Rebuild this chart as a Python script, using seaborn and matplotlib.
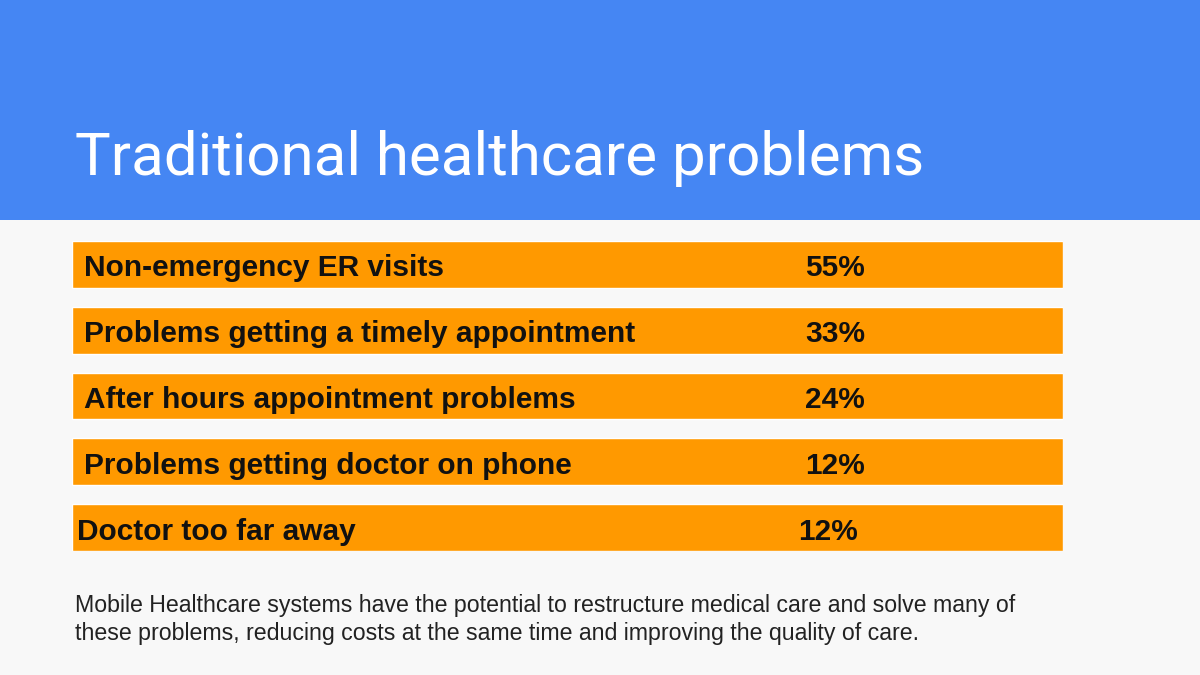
import matplotlib
matplotlib.use("Agg")
import matplotlib.pyplot as plt
import seaborn as sns
import pandas as pd

categories = ["Non-emergency ER visits", "Problems getting a timely appointment",
              "After hours appointment problems", "Problems getting doctor on phone",
              "Doctor too far away"]
percent_labels = ["55%", "33%", "24%", "12%", "12%"]
bar_extent = [100, 100, 100, 100, 100]

sns.set_style("white")
plt.rcParams['font.family'] = ['Liberation Sans', 'DejaVu Sans']

fig = plt.figure(figsize=(12, 6.75), dpi=100)
fig.patch.set_facecolor("#f8f8f8")
fig.patches.append(plt.Rectangle((0, 1 - 220/675), 1, 220/675, transform=fig.transFigure,
                                 facecolor="#4586f3", edgecolor="none", zorder=0))
fig.text(75/1200, 1 - 175/675, "Traditional healthcare problems", color="white",
         fontsize=43.2, family="Roboto", va="baseline", ha="left")

ax = fig.add_axes([72/1200, 1 - 551/675, 991/1200, 310/675])
df = pd.DataFrame({"cat": categories, "v": bar_extent})
sns.barplot(data=df, x="v", y="cat", color="#ff9900", saturation=1, width=0.712, ax=ax, orient="h")
ax.set_xlim(0, 100)
ax.set_ylim(4 + 0.356, -0.356)
ax.axis("off")
for i, (c, p) in enumerate(zip(categories, percent_labels)):
    lx = 0.5 if i == 4 else 1.2
    px = 73.3 if i == 4 else 74.0
    ax.text(lx, i + 0.06, c, va="center", ha="left", fontsize=21.5, fontweight="bold", color="#111111")
    ax.text(px, i + 0.06, p, va="center", ha="left", fontsize=21.5, fontweight="bold", color="#111111")

fig.text(75/1200, 1 - 612/675, "Mobile Healthcare systems have the potential to restructure medical care and solve many of",
         fontsize=16.7, color="#222222", va="baseline")
fig.text(75/1200, 1 - 640/675, "these problems, reducing costs at the same time and improving the quality of care.",
         fontsize=16.7, color="#222222", va="baseline")

fig.savefig("out.png", dpi=100, facecolor=fig.get_facecolor())
